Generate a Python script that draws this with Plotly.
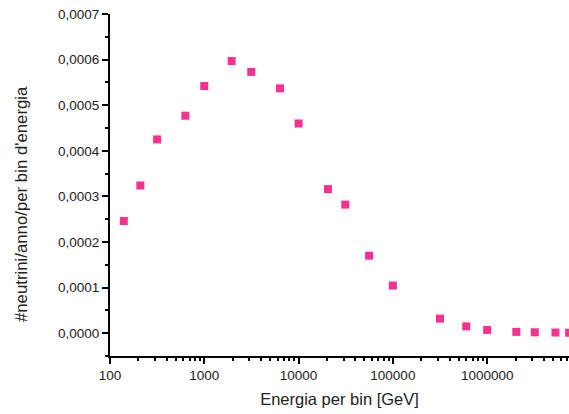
import plotly.graph_objects as go

energy = [140, 210, 316, 630, 1000, 1950, 3150, 6350, 10000, 20500, 31300,
          56000, 100000, 316000, 600000, 1000000, 2040000, 3200000, 5300000, 7400000]
rate = [0.000246, 0.000324, 0.000425, 0.000477, 0.000542, 0.000597, 0.000573,
        0.000537, 0.000460, 0.000316, 0.000282, 0.000170, 0.0001045, 0.000032,
        0.000015, 0.0000072, 0.0000029, 0.0000020, 0.0000015, 0.0000010]

x_tick_vals = [100, 1000, 10000, 100000, 1000000]
x_tick_text = ["100", "1000", "10000", "100000", "1000000"]
y_tick_vals = [0.0, 0.0001, 0.0002, 0.0003, 0.0004, 0.0005, 0.0006, 0.0007]

minor_x = [m * 10 ** d for d in range(2, 7) for m in range(2, 10)]

fig = go.Figure()
fig.add_trace(go.Scatter(
    x=energy, y=rate, mode="markers",
    marker=dict(symbol="square", size=8, color="#F7318F", line=dict(width=0)),
    cliponaxis=True, showlegend=False,
))

font_fam = "Liberation Sans, Arial, sans-serif"
fig.update_layout(
    width=569, height=414,
    margin=dict(l=110, r=0, t=14, b=58),
    plot_bgcolor="white", paper_bgcolor="white",
    separators=",.",
    font=dict(family=font_fam, size=13.5, color="#222222"),
    xaxis=dict(
        type="log", range=[2, 6.868],
        tickmode="array", tickvals=x_tick_vals, ticktext=x_tick_text,
        ticks="outside", ticklen=6, tickwidth=2, tickcolor="black",
        minor=dict(tickmode="array", tickvals=minor_x, ticks="outside",
                   ticklen=3, tickwidth=2, tickcolor="black"),
        showline=True, linecolor="black", linewidth=2,
        showgrid=False, zeroline=False,
        tickfont=dict(size=13.5, family=font_fam),
        title=dict(text="Energia per bin [GeV]", font=dict(size=16.5, family=font_fam), standoff=11),
    ),
    yaxis=dict(
        range=[-0.00005, 0.0007],
        tickmode="array", tickvals=y_tick_vals, tickformat=".4f",
        ticks="outside", ticklen=6, tickwidth=2, tickcolor="black",
        minor=dict(dtick=0.0001, tick0=0.00005, ticks="outside",
                   ticklen=3, tickwidth=2, tickcolor="black"),
        showline=True, linecolor="black", linewidth=2,
        showgrid=False, zeroline=False,
        tickfont=dict(size=13.5, family=font_fam),
    ),
    annotations=[dict(
        text="#neutrini/anno/per bin d'energia", textangle=-90,
        xref="paper", yref="paper", x=-0.194, y=0.444,
        xanchor="center", yanchor="middle", showarrow=False,
        font=dict(size=16.8, family=font_fam, color="#222222"),
    )],
)

fig.write_html("out.html")
